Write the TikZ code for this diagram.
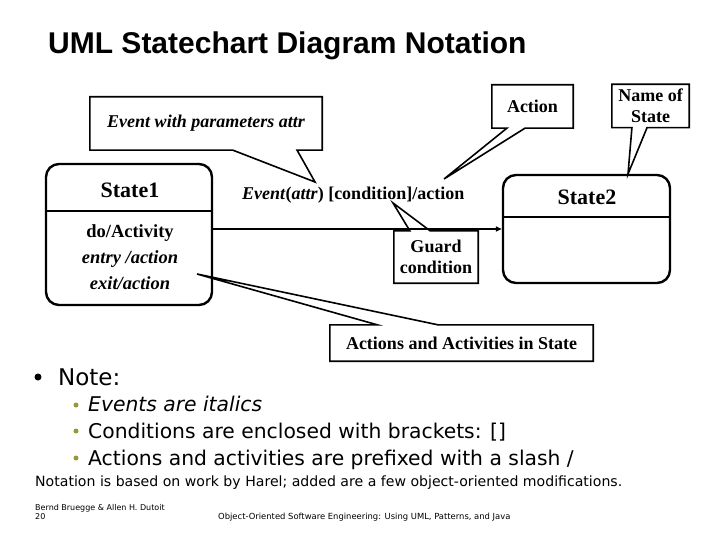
\documentclass[tikz,border=0pt]{standalone}
\usepackage{fontspec}
\setmainfont{Liberation Serif}
\newfontfamily\titlefont{Liberation Sans}
\newfontfamily\notefont{DejaVu Sans}
\usetikzlibrary{calc,arrows.meta}
\definecolor{bulletolive}{RGB}{153,153,51}
\tikzset{
  statebox/.style={draw, line width=2.4pt, rounded corners=13pt},
  callbox/.style={inner sep=0pt, align=center, font=\bfseries\fontsize{18}{21}\selectfont},
  callline/.style={line width=1.6pt},
  notetext/.style={anchor=base west, inner sep=0pt, font=\notefont\fontsize{20.3}{20.3}\selectfont},
}
\begin{document}
\begin{tikzpicture}[x=1pt, y=-1pt]
    \useasboundingbox (0,0) rectangle (720,540);
    % Title
    \node[anchor=base west, inner sep=0pt, font=\titlefont\bfseries\fontsize{30}{30}\selectfont] (title) at (48,54) {UML Statechart Diagram Notation};

    % States
    \node[statebox, minimum width=166, minimum height=141] (state1) at (129,234.5) {};
    \node[font=\bfseries\fontsize{22}{22}\selectfont] (s1name) at (130,190) {State1};
    \node[font=\bfseries\fontsize{18.5}{26}\selectfont, align=center] (s1body) at (130,257)
      {do/Activity\\\textit{entry /action}\\\textit{exit/action}};
    \coordinate (div1) at (0,211);
    \draw[line width=1.6pt] (state1.west |- div1) -- (state1.east |- div1);

    \node[statebox, minimum width=167, minimum height=108] (state2) at (586.5,229) {};
    \node[font=\bfseries\fontsize{22}{22}\selectfont] (s2name) at (587,197) {State2};
    \coordinate (div2) at (0,217);
    \draw[line width=1.6pt] (state2.west |- div2) -- (state2.east |- div2);

    % Transition
    \draw[line width=1.6pt, -{Triangle[length=6pt,width=5pt]}] (state1.east |- state2.west) -- (state2.west);
    \node[anchor=base west, inner sep=0pt, font=\bfseries\fontsize{18}{18}\selectfont] (trlabel) at (242,200)
      {\textit{Event}(\textit{attr}) [condition]/action};

    % Callouts
    \coordinate (evtip) at (315,182);
    \coordinate (acttip) at (444,179);
    \coordinate (nametip) at (628,174);
    \coordinate (guardtip) at (393,203);
    \coordinate (actstip) at (197,274);
    \node[callbox, minimum width=232, minimum height=53, font=\bfseries\itshape\fontsize{18}{21}\selectfont]
      (evcall) at (206,123.5) {Event with parameters attr};
    \node[callbox, minimum width=81, minimum height=43] (actcall) at (532.5,106.5) {Action};
    \node[callbox, minimum width=77, minimum height=43] (namecall) at (650.5,106) {Name of\\State};
    \node[callbox, minimum width=84, minimum height=52] (guardcall) at (436,257) {Guard\\condition};
    \node[callbox, minimum width=263, minimum height=36] (actscall) at (461.5,343) {Actions and Activities in State};

    \draw[callline] (evcall.north west) -- (evcall.north east) -- (evcall.south east)
      -- ($(evcall.south west)!0.892!(evcall.south east)$) -- (evtip)
      -- ($(evcall.south west)!0.616!(evcall.south east)$) -- (evcall.south west) -- cycle;
    \draw[callline] (actcall.north west) -- (actcall.north east) -- (actcall.south east)
      -- ($(actcall.south west)!0.407!(actcall.south east)$) -- (acttip)
      -- ($(actcall.south west)!0.185!(actcall.south east)$) -- (actcall.south west) -- cycle;
    \draw[callline] (namecall.north west) -- (namecall.north east) -- (namecall.south east)
      -- ($(namecall.south west)!0.455!(namecall.south east)$) -- (nametip)
      -- ($(namecall.south west)!0.26!(namecall.south east)$) -- (namecall.south west) -- cycle;
    \draw[callline] (guardcall.south west) -- (guardcall.south east) -- (guardcall.north east)
      -- ($(guardcall.north west)!0.43!(guardcall.north east)$) -- (guardtip)
      -- ($(guardcall.north west)!0.19!(guardcall.north east)$) -- (guardcall.north west) -- cycle;
    \draw[callline] (actscall.south west) -- (actscall.south east) -- (actscall.north east)
      -- ($(actscall.north west)!0.41!(actscall.north east)$) -- (actstip)
      -- ($(actscall.north west)!0.18!(actscall.north east)$) -- (actscall.north west) -- cycle;

    % Notes
    \fill (38,377) circle (3.5);
    \node[anchor=base west, inner sep=0pt, font=\notefont\fontsize{23}{23}\selectfont] (note) at (58,385) {Note:};
    \fill[bulletolive] (76,405) circle (2.5);
    \fill[bulletolive] (76,431) circle (2.5);
    \fill[bulletolive] (76,458) circle (2.5);
    \node[notetext] (note1) at (88,411) {\itshape Events are italics};
    \node[notetext] (note2) at (88,438) {Conditions are enclosed with brackets: []};
    \node[notetext] (note3) at (88,465) {Actions and activities are prefixed with a slash /};
    \node[anchor=base west, inner sep=0pt, font=\notefont\fontsize{14.1}{14.1}\selectfont] (harel) at (35,486)
      {Notation is based on work by Harel; added are a few object-oriented modifications.};

    % Footer
    \node[anchor=base west, inner sep=0pt, align=left, font=\notefont\fontsize{8}{9}\selectfont] (authors) at (35,519)
      {Bernd Bruegge \& Allen H. Dutoit\\20};
    \node[anchor=base west, inner sep=0pt, font=\notefont\fontsize{8.4}{9}\selectfont] (book) at (218,519)
      {Object-Oriented Software Engineering: Using UML, Patterns, and Java};
  \end{tikzpicture}
\end{document}
